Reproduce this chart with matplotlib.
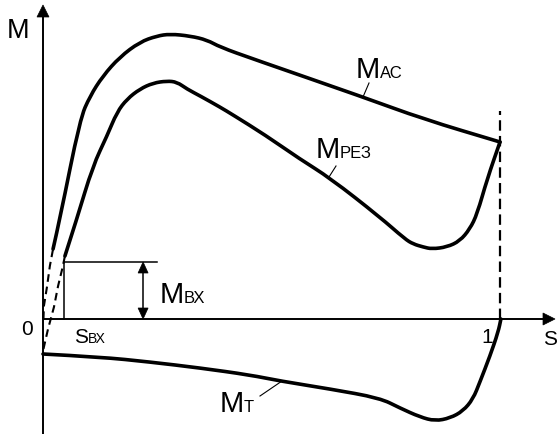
import matplotlib
matplotlib.use("Agg")
import matplotlib.pyplot as plt
from matplotlib.patches import Polygon, PathPatch
from matplotlib.path import Path

plt.rcParams['font.family'] = ['Liberation Sans', 'DejaVu Sans']
plt.rcParams['lines.scale_dashes'] = False

# Slip s (0 .. 1) against torque M (arbitrary units)
# Drive torque curve M_AC: dashed start near the origin, then solid
s_ac_start = [0.001, 0.002, 0.009, 0.015, 0.022]
m_ac_start = [0.00, 0.13, 0.33, 0.53, 0.70]
s_ac = [0.022, 0.037, 0.081, 0.103, 0.131, 0.168, 0.212, 0.249, 0.278,
        0.322, 0.359, 0.387, 0.460, 0.700, 0.832, 1.000]
m_ac = [0.70, 1.00, 2.00, 2.23, 2.43, 2.62, 2.77, 2.83, 2.85,
        2.83, 2.79, 2.72, 2.60, 2.22, 2.00, 1.77]

# Cutting torque curve M_РЕЗ
s_rez_start = [0.001, 0.011, 0.024, 0.033, 0.042, 0.048]
m_rez_start = [-0.30, -0.10, 0.12, 0.33, 0.50, 0.63]
s_rez = [0.048, 0.074, 0.109, 0.140, 0.162, 0.184, 0.212, 0.241, 0.271,
         0.293, 0.315, 0.344, 0.387, 0.416, 0.486, 0.562, 0.628, 0.737,
         0.792, 0.810, 0.832, 0.851, 0.884, 0.912, 0.934, 0.950, 0.972, 1.000]
m_rez = [0.63, 1.00, 1.53, 1.83, 2.07, 2.20, 2.30, 2.36, 2.38,
         2.37, 2.30, 2.23, 2.12, 2.04, 1.84, 1.60, 1.41, 1.02,
         0.80, 0.75, 0.72, 0.70, 0.72, 0.78, 0.90, 1.05, 1.40, 1.77]

# Friction torque curve M_Т
s_t = [0.000, 0.125, 0.234, 0.344, 0.453, 0.519, 0.628, 0.737, 0.781,
       0.825, 0.858, 0.891, 0.919, 0.941, 0.956, 0.978, 0.996, 1.002]
m_t = [-0.35, -0.38, -0.43, -0.49, -0.56, -0.62, -0.70, -0.79, -0.89,
       -0.98, -1.02, -0.99, -0.92, -0.80, -0.63, -0.37, -0.13, 0.00]

# Entry point (s_ВХ, M_ВХ) and the s = 1 boundary
s_bx = 0.046
m_bx = 0.57
m_bx_line_end = 0.249
m_bx_arrow_s = 0.219
s_one = 1.0
m_one_top = 2.08

PX_S = 457.0   # pixels per unit of s
PX_M = 100.0   # pixels per unit of M


def sx(px):
    return (px - 43) / PX_S


def my(py):
    return (320 - py) / PX_M


fig = plt.figure(figsize=(5.6, 4.35), dpi=100)
ax = fig.add_axes([0, 0, 1, 1])
ax.set_xlim(sx(0), sx(560))
ax.set_ylim(my(435), my(0))
ax.axis('off')


def arrow_head(x_tip, y_tip, direction, length, half):
    """Filled triangular head given in data coords, sized in pixels."""
    dx, dy = direction
    bx = x_tip - dx * length / PX_S
    by = y_tip - dy * length / PX_M
    px, py = -dy, dx
    pts = [(x_tip, y_tip),
           (bx + px * half / PX_S, by + py * half / PX_M),
           (bx - px * half / PX_S, by - py * half / PX_M)]
    ax.add_patch(Polygon(pts, closed=True, facecolor='black',
                         edgecolor='black', lw=0.5, zorder=5))


def smooth_curve(xs, ys, lw=2.6):
    """Stroke a polyline as a chain of quadratic Bezier pieces."""
    verts = [(xs[0], ys[0])]
    codes = [Path.MOVETO]
    for i in range(1, len(xs) - 1):
        mid = ((xs[i] + xs[i + 1]) / 2, (ys[i] + ys[i + 1]) / 2)
        verts += [(xs[i], ys[i]), mid]
        codes += [Path.CURVE3, Path.CURVE3]
    verts.append((xs[-1], ys[-1]))
    codes.append(Path.LINETO)
    ax.add_patch(PathPatch(Path(verts, codes), facecolor='none',
                           edgecolor='black', lw=lw, joinstyle='round',
                           capstyle='round'))


# Coordinate axes
ax.plot([0, 0], [my(435), my(16)], color='black', lw=1.4,
        solid_capstyle='butt')
arrow_head(0, my(6), (0, 1), 12, 6)
ax.plot([0, sx(544)], [0, 0], color='black', lw=1.4, solid_capstyle='butt')
arrow_head(sx(555), 0, (1, 0), 12, 6)

# Curves
dash_kw = dict(color='black', lw=1.5, linestyle=(0, (5.5, 3.5)))
ax.plot(s_ac_start, m_ac_start, **dash_kw)
smooth_curve(s_ac, m_ac)
ax.plot(s_rez_start, m_rez_start, **dash_kw)
smooth_curve(s_rez, m_rez)
smooth_curve(s_t, m_t)

# s = 1 boundary
ax.plot([s_one, s_one], [0, m_one_top], color='black', lw=1.6,
        linestyle=(0, (7.5, 3.8)))

# M_ВХ construction
ax.plot([s_bx, s_bx], [0, m_bx], color='black', lw=1.1)
ax.plot([s_bx, m_bx_line_end], [m_bx, m_bx], color='black', lw=1.1)
ax.plot([m_bx_arrow_s, m_bx_arrow_s], [my(311), m_bx - 9 / PX_M],
        color='black', lw=1.1)
arrow_head(m_bx_arrow_s, m_bx, (0, 1), 11, 5)
arrow_head(m_bx_arrow_s, 0, (0, -1), 11, 5)

# Leader lines to the curve names
leader_kw = dict(color='black', lw=0.8)
ax.plot([sx(363), sx(369)], [my(98), my(84)], **leader_kw)
ax.plot([sx(329), sx(336)], [my(178), my(167)], **leader_kw)
ax.plot([sx(282), sx(260)], [my(382), my(397)], **leader_kw)

renderer = fig.canvas.get_renderer()


def label(x, y, text, size, sub=None, sub_size=None):
    t = ax.text(sx(x), my(y), text, fontsize=size, ha='left',
                va='baseline')
    if sub:
        bb = t.get_window_extent(renderer)
        ax.text(sx(bb.x1 - 0.5), my(y), sub, fontsize=sub_size,
                ha='left', va='baseline')


# Axis labels
label(7, 38, 'M', 19.5)
label(21, 335, '0', 15)
label(481, 343, '1', 15)
label(543, 345, 'S', 15)

# Curve names with subscripts
label(356, 78, 'M', 21, 'АС', 12)
label(316, 158, 'M', 21, 'РЕЗ', 12)
label(160, 303, 'M', 21, 'ВХ', 12)
label(220, 412, 'M', 21, 'Т', 12)
label(74, 343, 'S', 15, 'ВХ', 10)

fig.savefig('out.png', dpi=100)
